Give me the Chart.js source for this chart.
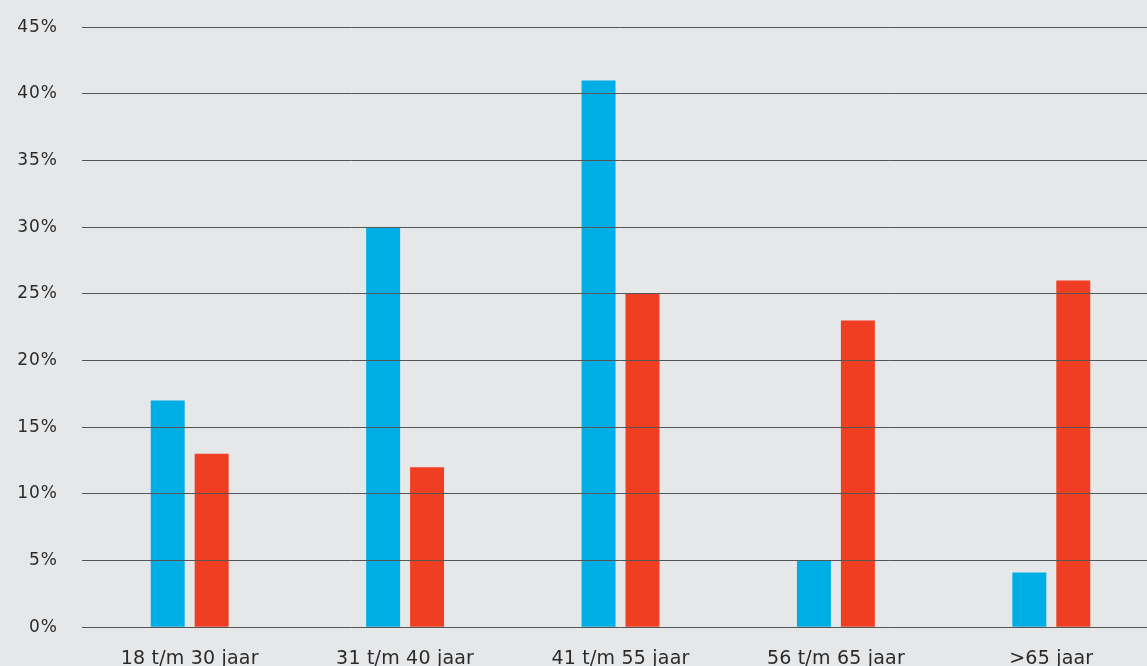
<!DOCTYPE html>
<html><head><meta charset="utf-8">
<script src="https://cdn.jsdelivr.net/npm/chart.js@4"></script>
<style>
html,body{margin:0;padding:0;background:#e6e7e9;overflow:hidden;}
#wrap{width:1159px;height:689px;position:relative;margin-top:-7px;}
</style></head>
<body><div id="wrap"><canvas id="c"></canvas></div>
<script>
const categories = ['18 t/m 30 jaar','31 t/m 40 jaar','41 t/m 55 jaar','56 t/m 65 jaar','>65 jaar'];
const blueValues = [17, 30, 41, 5, 4.1];
const redValues = [13, 12, 25, 23, 26];
const yTicks = [0,5,10,15,20,25,30,35,40,45];

const bg = {id:'bg',
  beforeLayout(c){c.ctx.letterSpacing='1px';},
  beforeDraw(c){const x=c.ctx;x.save();x.fillStyle='#e6e7e9';x.fillRect(0,0,c.width,c.height);x.restore();x.letterSpacing='1px';}};
const yFont = {family:'"DejaVu Sans", sans-serif', size:17};
const xFont = {family:'"DejaVu Sans", sans-serif', size:19};
function patchX(a){
  if(a._patched) return; a._patched=true;
  const orig=a.drawLabels.bind(a);
  a.drawLabels=function(area){const ctx=this.ctx;const prev=ctx.letterSpacing;ctx.letterSpacing='0.2px';orig(area);ctx.letterSpacing=prev;};
}
new Chart(document.getElementById('c'), {
  type:'bar',
  data:{labels:categories, datasets:[
    {data:blueValues, backgroundColor:'#00aee6', barPercentage:0.773, categoryPercentage:0.408},
    {data:redValues, backgroundColor:'#f03e23', barPercentage:0.773, categoryPercentage:0.408}
  ]},
  options:{
    responsive:true, maintainAspectRatio:false, animation:false,
    layout:{padding:{top:10,right:0,left:0,bottom:0}},
    plugins:{legend:{display:false}, tooltip:{enabled:false}},
    scales:{
      x:{grid:{display:false}, border:{display:false}, afterFit:patchX,
         ticks:{font:xFont, color:'#2b2b2b', padding:12, maxRotation:0}},
      y:{min:0,max:45, afterFit(a){a.width=82;},
         afterBuildTicks(a){a.ticks=yTicks.map(v=>({value:v}));},
         grid:{color:'#555', lineWidth:1, drawTicks:false, z:1},
         border:{display:false},
         ticks:{font:yFont, color:'#2b2b2b', padding:24, callback:v=>v+'%'}}
    }
  },
  plugins:[bg]
});
</script></body></html>
